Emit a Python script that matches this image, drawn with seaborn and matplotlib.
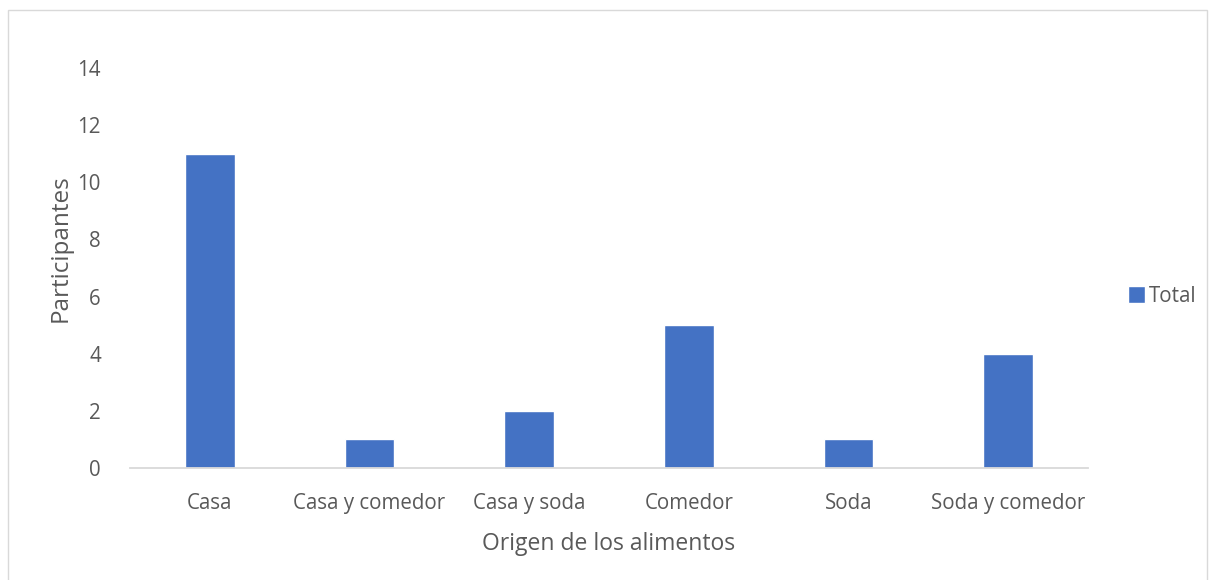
import matplotlib
matplotlib.use("Agg")
import matplotlib.pyplot as plt
import seaborn as sns
import pandas as pd
from matplotlib.patches import Rectangle

# data
origen = ["Casa", "Casa y comedor", "Casa y soda", "Comedor", "Soda", "Soda y comedor"]
participantes = [11, 1, 2, 5, 1, 4]

df = pd.DataFrame({"Origen": origen, "Total": participantes})

sns.set_theme(style="white")
plt.rcParams['font.family'] = ['Open Sans', 'DejaVu Sans']
text_col = "#595959"
bar_col = "#4472C4"

fig = plt.figure(figsize=(12.09, 5.8), dpi=100)
ax = fig.add_axes([130 / 1209, 112 / 580, 958 / 1209, 400 / 580])

sns.barplot(data=df, x="Origen", y="Total", color=bar_col, width=0.313,
            saturation=1, ax=ax, label="Total")

ax.set_ylim(0, 14)
ax.set_xlim(-0.5, len(origen) - 0.5)
ax.set_yticks(range(0, 15, 2))
ax.tick_params(axis="both", length=0, labelsize=14.8, colors=text_col)
ax.tick_params(axis="x", pad=18)
ax.tick_params(axis="y", pad=21)
for s in ["top", "right", "left"]:
    ax.spines[s].set_visible(False)
ax.spines["bottom"].set_color("#d9d9d9")
ax.spines["bottom"].set_linewidth(1.3)

ax.set_xlabel("Origen de los alimentos", fontsize=16.5, color=text_col, labelpad=13)
ax.set_ylabel("Participantes", fontsize=17.5, color=text_col)
ax.yaxis.set_label_coords(-0.06, 0.549)

leg = ax.legend(loc="center left", bbox_to_anchor=(1.022, 0.43), frameon=False,
                fontsize=14.8, handlelength=0.85, handleheight=0.85, handletextpad=0.2)
for t in leg.get_texts():
    t.set_color(text_col)

# chart area border
fig.patches.append(Rectangle((8 / 1209, -0.01), 1 - 8 / 1209 - 2 / 1209, 1 - 10 / 580 + 0.01,
                             transform=fig.transFigure, fill=False,
                             edgecolor="#d9d9d9", linewidth=1))

fig.savefig("out.png", dpi=100)
